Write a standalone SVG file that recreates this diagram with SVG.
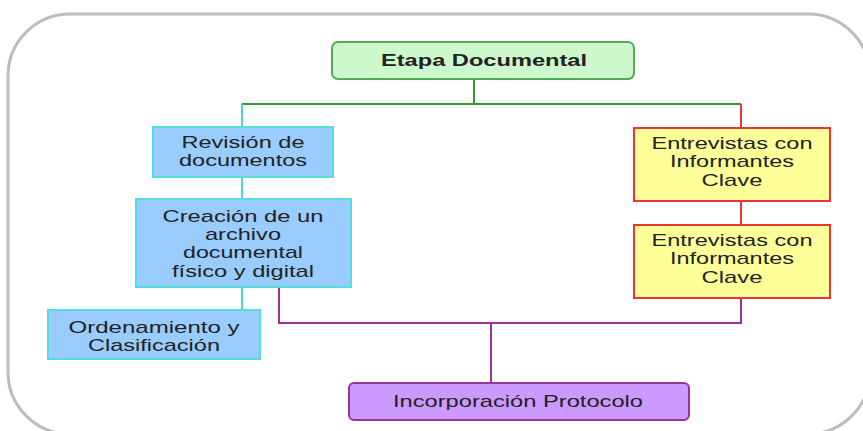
<svg xmlns="http://www.w3.org/2000/svg" width="863" height="431" viewBox="0 0 863 431">
<style>
text{font-family:"Liberation Sans",Arial,sans-serif;font-size:17px;fill:#222;text-anchor:middle}
.b{font-weight:bold;font-size:16px}
.blue{fill:#99ccff;stroke:#55dddd;stroke-width:2}
.yel{fill:#ffff99;stroke:#ee3333;stroke-width:2}
.c{fill:none;stroke-width:2}
</style>
<rect x="8" y="14" width="862" height="420" rx="62" fill="#fff" stroke="#bdbdbd" stroke-width="3"/>
<g id="connectors">
<path class="c" stroke="#339933" d="M474 79V104M242 104H741"/>
<path class="c" stroke="#44d8d8" d="M242 104V127M242 177V199M242 287V310"/>
<path class="c" stroke="#ee3333" d="M741 104V128M741 201V225"/>
<path class="c" stroke="#993399" d="M279 287V323H741V298M491 323V383"/>
</g>
<g id="etapa">
<rect x="332" y="42" width="302" height="37" rx="6" fill="#ccf8cc" stroke="#55aa55" stroke-width="2"/>
<text class="b" x="484" y="66" textLength="206" lengthAdjust="spacingAndGlyphs">Etapa Documental</text>
</g>
<g id="revision">
<rect class="blue" x="153" y="127" width="180" height="50"/>
<text x="243" y="148" textLength="123" lengthAdjust="spacingAndGlyphs">Revisión de</text>
<text x="243" y="166" textLength="128" lengthAdjust="spacingAndGlyphs">documentos</text>
</g>
<g id="creacion">
<rect class="blue" x="136" y="199" width="215" height="88"/>
<text x="243" y="222" textLength="161" lengthAdjust="spacingAndGlyphs">Creación de un</text>
<text x="243" y="240" textLength="76" lengthAdjust="spacingAndGlyphs">archivo</text>
<text x="243" y="258" textLength="120" lengthAdjust="spacingAndGlyphs">documental</text>
<text x="243" y="277" textLength="142" lengthAdjust="spacingAndGlyphs">físico y digital</text>
</g>
<g id="ordenamiento">
<rect class="blue" x="48" y="310" width="212" height="49"/>
<text x="154" y="333" textLength="171" lengthAdjust="spacingAndGlyphs">Ordenamiento y</text>
<text x="154" y="351" textLength="132" lengthAdjust="spacingAndGlyphs">Clasificación</text>
</g>
<g id="entrevistas1">
<rect class="yel" x="634" y="128" width="196" height="73"/>
<text x="732" y="149" textLength="161" lengthAdjust="spacingAndGlyphs">Entrevistas con</text>
<text x="732" y="167" textLength="124" lengthAdjust="spacingAndGlyphs">Informantes</text>
<text x="732" y="186" textLength="61" lengthAdjust="spacingAndGlyphs">Clave</text>
</g>
<g id="entrevistas2">
<rect class="yel" x="634" y="225" width="196" height="73"/>
<text x="732" y="246" textLength="161" lengthAdjust="spacingAndGlyphs">Entrevistas con</text>
<text x="732" y="264" textLength="124" lengthAdjust="spacingAndGlyphs">Informantes</text>
<text x="732" y="283" textLength="61" lengthAdjust="spacingAndGlyphs">Clave</text>
</g>
<g id="incorporacion">
<rect x="349" y="383" width="340" height="37" rx="5" fill="#cc99ff" stroke="#993399" stroke-width="2"/>
<text x="518" y="407" textLength="250" lengthAdjust="spacingAndGlyphs">Incorporación Protocolo</text>
</g>
</svg>
